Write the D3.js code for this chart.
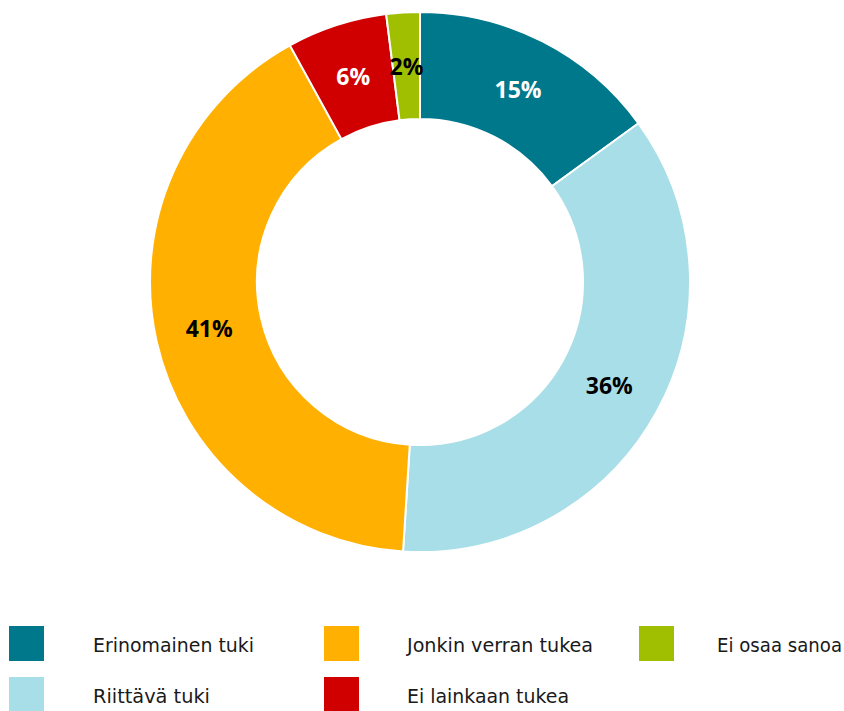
<!DOCTYPE html>
<html><head><meta charset="utf-8">
<script src="https://cdn.jsdelivr.net/npm/d3@7"></script>
<style>
body{margin:0;background:#fff;}
svg{display:block;}
</style></head>
<body>
<svg id="chart" width="844" height="711"></svg>
<script>
const categories = ["Erinomainen tuki","Riittävä tuki","Jonkin verran tukea","Ei lainkaan tukea","Ei osaa sanoa"];
const values = [15, 36, 41, 6, 2];
const colors = ["#00788C","#A8DEE8","#FFB000","#D10000","#9FBF00"];
const labelColors = ["#ffffff","#000000","#000000","#ffffff","#000000"];
const legendOrder = ["Erinomainen tuki","Jonkin verran tukea","Ei osaa sanoa","Riittävä tuki","Ei lainkaan tukea"];

const svg = d3.select("#chart");
const cx = 420, cy = 282, rOuter = 270, rInner = 163;
const color = d3.scaleOrdinal().domain(categories).range(colors);
const lcolor = d3.scaleOrdinal().domain(categories).range(labelColors);

const data = categories.map((c,i)=>({cat:c, value:values[i]}));
const pie = d3.pie().value(d=>d.value).sort(null);
const arc = d3.arc().innerRadius(rInner).outerRadius(rOuter);
const labelArc = d3.arc().innerRadius(216).outerRadius(216);

const g = svg.append("g").attr("transform",`translate(${cx},${cy})`);
const arcs = pie(data);
g.selectAll("path").data(arcs).join("path")
  .attr("d",arc).attr("fill",d=>color(d.data.cat))
  .attr("stroke","#fff").attr("stroke-width",2);
g.selectAll("text").data(arcs).join("text")
  .attr("transform",d=>`translate(${labelArc.centroid(d)})`)
  .attr("text-anchor","middle").attr("dy","0.36em")
  .attr("font-family","'Open Sans', sans-serif").attr("font-weight","bold")
  .attr("font-size",23)
  .attr("fill",d=>lcolor(d.data.cat))
  .text(d=>d.data.value+"%");

// legend layout
const colX = [9, 324, 639];
const textX = [93, 407, 717];
const rowY = [626, 677];
const legendWidths = [161, 186, 125, 117, 162];
const leg = svg.append("g");
legendOrder.forEach((c,i)=>{
  const col = i%3, row = Math.floor(i/3);
  const y = rowY[row];
  leg.append("rect").attr("x",colX[col]).attr("y",y).attr("width",35).attr("height",35).attr("fill",color(c));
  leg.append("text").attr("x",textX[col]).attr("y",y+26)
    .attr("font-family","'DejaVu Sans Condensed','Roboto',sans-serif")
    .attr("font-size",19).attr("fill","#1a1a1a")
    .attr("textLength",legendWidths[i]).attr("lengthAdjust","spacingAndGlyphs")
    .text(c);
});
</script>
</body></html>
